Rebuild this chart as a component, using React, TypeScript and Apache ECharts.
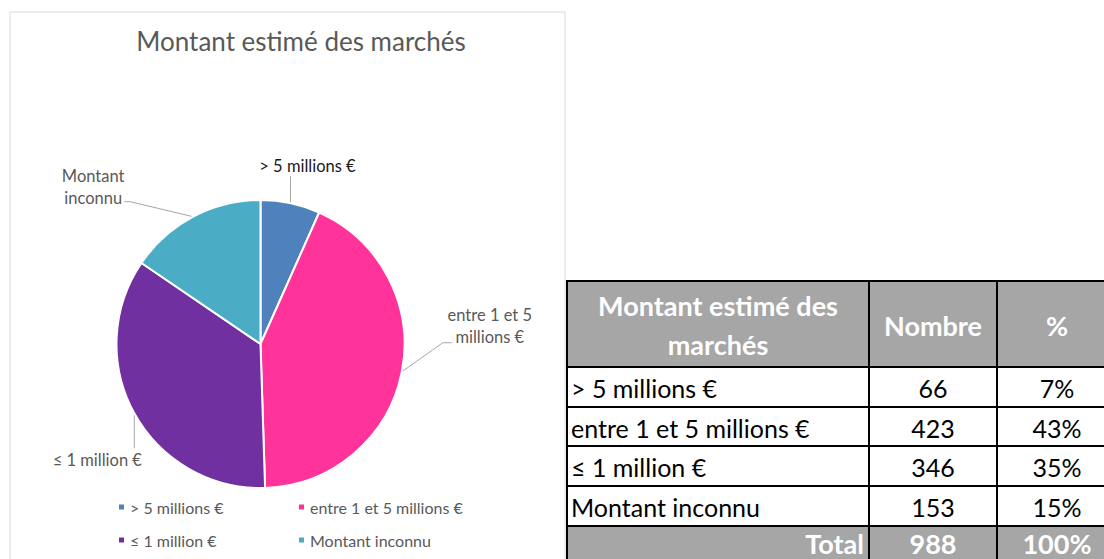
import React, { useEffect, useRef } from "react";
import * as echarts from "echarts";

const chartTitle = "Montant estimé des marchés";
const categories = ["> 5 millions €", "entre 1 et 5 millions €", "≤ 1 million €", "Montant inconnu"];
const pieLabels = ["> 5 millions €", "entre 1 et 5\nmillions €", "≤ 1 million €", "Montant\ninconnu"];
const counts = [66, 423, 346, 153];
const percents = ["7%", "43%", "35%", "15%"];
const totalLabel = "Total";
const totalCount = "988";
const totalPercent = "100%";
const headers = ["Montant estimé des\nmarchés", "Nombre", "%"];
const colors = ["#4F81BD", "#FF3399", "#7030A0", "#4BACC6"];

const FONT = "Lato, 'Open Sans', sans-serif";
const CX = 260.5;
const CY = 344;
const R = 144;

// label placement relative to the slice's outer mid point (layout only)
const labelOffsets = [
  { d: [17, -37], line: [[0, -27]] },
  { d: [88, -46], line: [[41, -29], [50, -29]] },
  { d: [-37, 47], line: [[0, 35]] },
  { d: [-100, -30], line: [[-63, -15], [-69, -15]] },
];

const colX = [567, 869, 997, 1117];
const rowY = [281, 367, 407, 446, 486, 526, 566];

export default function App() {
  const ref = useRef<HTMLDivElement>(null);
  useEffect(() => {
    if (!ref.current) return;
    const chart = echarts.init(ref.current, undefined, { renderer: "svg" });
    const sum = counts.reduce((a, b) => a + b, 0);
    let acc = 0;
    const edges = counts.map((v) => {
      const mid = ((acc + v / 2) / sum) * 2 * Math.PI;
      acc += v;
      return [CX + R * Math.sin(mid), CY - R * Math.cos(mid)];
    });

    const graphics: any[] = [];
    graphics.push({
      type: "rect",
      shape: { x: 10, y: 12, width: 555, height: 600 },
      style: { fill: "#fff", stroke: "#d9d9d9", lineWidth: 1 },
      z: -10,
    });
    graphics.push({
      type: "text",
      x: 301,
      y: 41,
      style: {
        text: chartTitle,
        fill: "#595959",
        font: `26px ${FONT}`,
        textAlign: "center",
        textVerticalAlign: "middle",
      },
    });

    // table
    const nRows = categories.length + 2;
    for (let r = 0; r < nRows; r++) {
      const isHead = r === 0;
      const isTotal = r === nRows - 1;
      for (let c = 0; c < 3; c++) {
        const x0 = colX[c];
        const y0 = rowY[r];
        const w = colX[c + 1] - x0;
        const h = rowY[r + 1] - y0;
        graphics.push({
          type: "rect",
          shape: { x: x0, y: y0, width: w, height: h },
          style: { fill: isHead || isTotal ? "#A6A6A6" : "#fff", stroke: "#000", lineWidth: 2 },
        });
        let text = "";
        if (isHead) text = headers[c];
        else if (isTotal) text = [totalLabel, totalCount, totalPercent][c];
        else {
          const i = r - 1;
          text = [categories[i], String(counts[i]), percents[i]][c];
        }
        let tx = x0 + w / 2;
        let align = "center";
        if (!isHead && c === 0) {
          if (isTotal) {
            tx = x0 + w - 5;
            align = "right";
          } else {
            tx = x0 + 4;
            align = "left";
          }
        }
        const bold = isHead || isTotal;
        graphics.push({
          type: "text",
          x: tx,
          y: isTotal ? y0 + 17 : y0 + h / 2 + 1,
          z: 5,
          style: {
            text,
            fill: bold ? "#fff" : "#000",
            font: `${bold ? "bold 27px" : "25px"} ${FONT}`,
            textAlign: align,
            textVerticalAlign: "middle",
            lineHeight: 39,
          },
        });
      }
    }

    const legendPos = [
      [117, 499],
      [297, 499],
      [117, 532],
      [297, 532],
    ];
    const legends = categories.map((name, i) => ({
      data: [name],
      left: legendPos[i][0],
      top: legendPos[i][1],
      padding: 0,
      icon: "rect",
      itemWidth: 7,
      itemHeight: 7,
      itemGap: 0,
      textStyle: { color: "#595959", fontSize: 16, fontFamily: FONT },
      selectedMode: false,
    }));

    chart.setOption({
      animation: false,
      color: colors,
      legend: legends,
      graphic: graphics,
      series: [
        {
          type: "pie",
          center: [CX, CY],
          radius: [0, R],
          startAngle: 90,
          clockwise: true,
          data: categories.map((name, i) => ({
            name,
            value: counts[i],
            itemStyle: { color: colors[i] },
            label: {
              formatter: pieLabels[i],
              color: i === 0 ? "#1a1a1a" : "#595959",
            },
          })),
          itemStyle: { borderColor: "#fff", borderWidth: 2 },
          label: {
            show: true,
            position: "outside",
            fontSize: 16.5,
            fontFamily: FONT,
            lineHeight: 22,
            align: "center",
            overflow: "none",
            width: 200,
          },
          labelLine: { show: true, lineStyle: { color: "#A6A6A6", width: 1 } },
          labelLayout: (params: any) => {
            const i = params.dataIndex;
            const e = edges[i];
            const o = labelOffsets[i];
            const pts = [e, ...o.line.map((p) => [e[0] + p[0], e[1] + p[1]])];
            if (pts.length === 2) pts.push(pts[1]);
            return {
              x: e[0] + o.d[0],
              y: e[1] + o.d[1],
              align: "center",
              verticalAlign: "middle",
              labelLinePoints: pts,
            };
          },
          emphasis: { disabled: true },
        },
      ],
    });
    return () => chart.dispose();
  }, []);
  return (
    <div
      ref={ref}
      style={{ position: "fixed", left: 0, top: 0, width: 1104, height: 559, background: "#fff" }}
    />
  );
}
